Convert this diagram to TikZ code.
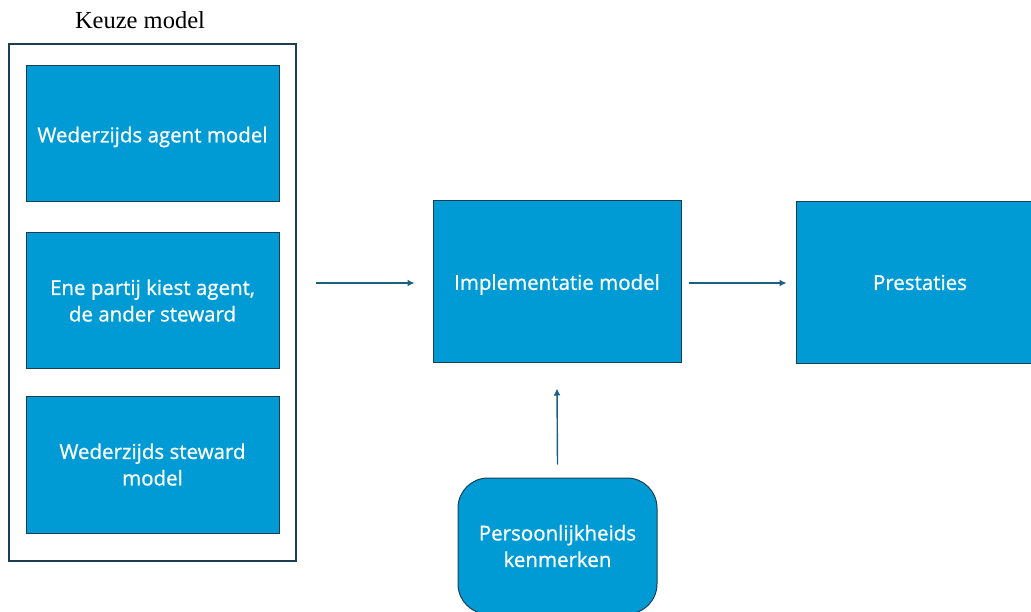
\documentclass[tikz,border=0pt]{standalone}
\usepackage{fontspec}
\usetikzlibrary{arrows.meta}
\setmainfont{Liberation Serif}
\newfontfamily\boxfont[FakeBold=0.8]{Open Sans}
\definecolor{boxfill}{RGB}{0,155,213}
\definecolor{boxline}{RGB}{28,62,84}
\definecolor{arrowcol}{RGB}{26,96,128}
\newcommand{\lowered}[1]{\raisebox{-3pt}[\height][\depth]{#1}}
\begin{document}
\begin{tikzpicture}[x=1pt,y=-1pt,
  blockbox/.style={draw=boxline,line width=1pt,fill=boxfill,text=white,
    font=\boxfont\fontsize{20.5}{26.5}\selectfont,align=center,inner sep=0pt},
  flow/.style={draw=arrowcol,line width=1.4pt,-{Latex[length=7pt,width=7pt]}}]
\useasboundingbox (0,0) rectangle (1031,612);
\clip (0,0) rectangle (1031,612);
% grouping frame and its title
\node[draw=boxline,line width=1.3pt,minimum width=287pt,minimum height=517pt,inner sep=0pt] (frame) at (152.5,302.5) {};
\node[font=\fontsize{24.5}{28}\selectfont] (title) at (140,20) {Keuze model};
% the three model choices
\node[blockbox,minimum width=253pt,minimum height=136pt] (m1) at (152.5,134) {\lowered{Wederzijds agent model}};
\node[blockbox,minimum width=253pt,minimum height=135pt] (m2) at (152.5,300.5) {Ene partij kiest agent,\\de ander steward};
\node[blockbox,minimum width=253pt,minimum height=137pt] (m3) at (152.5,464.5) {Wederzijds steward\\model};
% main flow
\node[blockbox,minimum width=248pt,minimum height=161pt] (impl) at (557,281.5) {\lowered{Implementatie model}};
\node[blockbox,minimum width=248pt,minimum height=161pt] (prest) at (920,282.5) {Prestaties};
\node[blockbox,rounded corners=30pt,minimum width=199pt,minimum height=136pt] (pers) at (557.5,546) {Persoonlijkheids\\kenmerken};
\coordinate (in) at (316,283);
\draw[flow] (in) -- ([xshift=-18pt]impl.west |- in);
\draw[flow] ([xshift=7pt]impl.east |- in) -- ([xshift=-9pt]prest.west |- in);
\draw[flow] ([yshift=13pt]pers.north) -- ([yshift=-26pt]impl.south);
\end{tikzpicture}
\end{document}
